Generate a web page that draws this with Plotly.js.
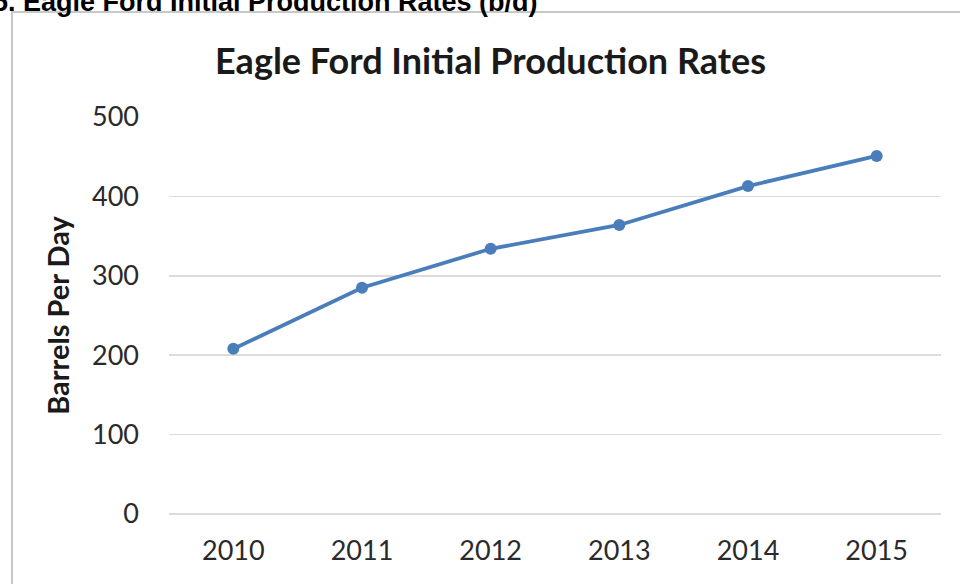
<!DOCTYPE html>
<html>
<head>
<meta charset="utf-8">
<script src="https://cdn.plot.ly/plotly-3.0.1.min.js"></script>
<style>html,body{margin:0;padding:0;background:#fff;}#chart{width:960px;height:584px;}</style>
</head>
<body>
<div id="chart"></div>
<script>
const years = ['2010', '2011', '2012', '2013', '2014', '2015'];
const barrelsPerDay = [208, 285, 334, 364, 413, 451];
const yTicks = [0, 100, 200, 300, 400, 500];

const W = 960, H = 584;
const L = 169, R = 941, T = 117, B = 514;
const px = x => (x - L) / (R - L);
const py = y => (B - y) / (B - T);

const trace = {
  x: years,
  y: barrelsPerDay,
  type: 'scatter',
  mode: 'lines+markers',
  line: {color: '#4a7ebb', width: 3.8},
  marker: {color: '#4a7ebb', size: 12},
  hoverinfo: 'skip'
};

const layout = {
  width: W, height: H,
  margin: {l: L, r: W - R, t: T, b: H - B, pad: 0},
  paper_bgcolor: '#ffffff',
  plot_bgcolor: '#ffffff',
  showlegend: false,
  font: {family: 'Lato, sans-serif', color: '#404040'},
  xaxis: {
    type: 'category',
    range: [-0.5, 5.5],
    showgrid: false, zeroline: false, showline: false,
    ticks: '', tickfont: {size: 27, color: '#2a2a2a'},
    ticklabelstandoff: 18
  },
  yaxis: {
    range: [0, 500],
    tickvals: yTicks,
    showgrid: true, gridcolor: '#dcdcdc', gridwidth: 1.5,
    zeroline: true, zerolinecolor: '#dcdcdc', zerolinewidth: 1.5,
    showline: false, ticks: '',
    tickfont: {size: 27, color: '#2a2a2a'},
    ticklabelstandoff: 29,
    title: {text: 'Barrels Per Day', font: {size: 29, color: '#1a1a1a', family: 'Lato, sans-serif', weight: 'bold'}, standoff: 13}
  },
  shapes: [{
    type: 'rect', xref: 'paper', yref: 'paper',
    x0: px(12), x1: px(975), y0: py(600), y1: py(12),
    line: {color: '#c8c8c8', width: 2}, fillcolor: 'rgba(0,0,0,0)', layer: 'below'
  }],
  annotations: [
    {
      text: '<b>Eagle Ford Initial Production Rates</b>',
      xref: 'paper', yref: 'paper', x: px(490), y: py(60),
      xanchor: 'center', yanchor: 'middle', showarrow: false,
      font: {size: 36, color: '#1a1a1a', family: 'Lato, sans-serif'}
    },
    {
      text: '<b>5. Eagle Ford Initial Production Rates (b/d)</b>',
      xref: 'paper', yref: 'paper', x: px(-9), y: py(2),
      xanchor: 'left', yanchor: 'middle', showarrow: false,
      font: {size: 27, color: '#000000', family: 'Arial, Liberation Sans, sans-serif'}
    }
  ]
};

Plotly.newPlot('chart', [trace], layout, {displayModeBar: false, staticPlot: true});
</script>
</body>
</html>
